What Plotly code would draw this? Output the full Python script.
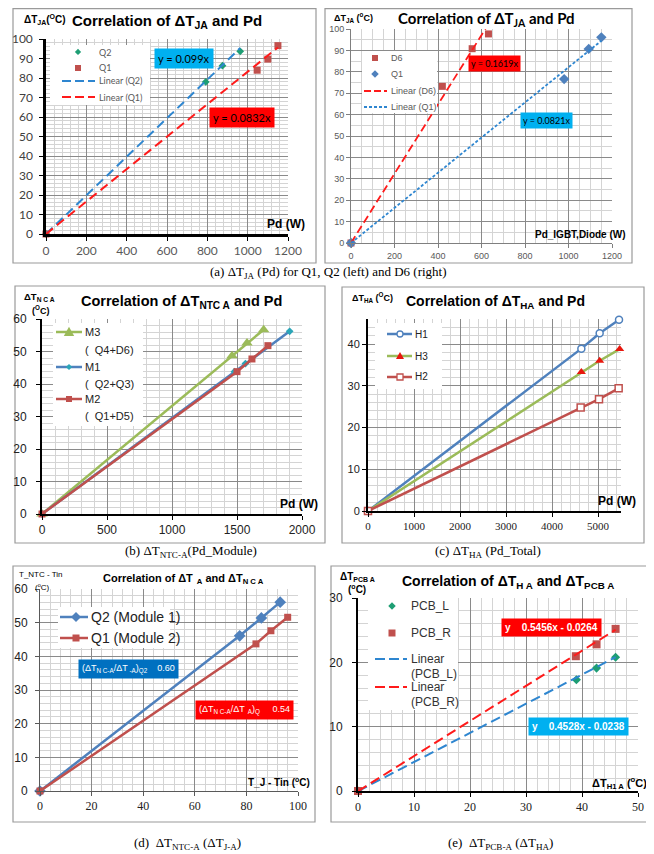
import numpy as np
import plotly.graph_objects as go

W, H = 654, 854
OFF = 8  # the page body margin shifts the figure by this many pixels
def X(p): return (p - OFF) / W
def Y(p): return 1 - (max(p - OFF, 0.6)) / H

# ---------------- DATA ----------------
# (a-left) dT_JA vs Pd
a1_q2_x = [0, 792, 875, 963]
a1_q2_y = [0, 78, 86.3, 93.7]
a1_q1_x = [0, 1047, 1100, 1150]
a1_q1_y = [0, 84, 89.7, 96.6]
a1_q2_slope = 0.099
a1_q1_slope = 0.0832

# (a-right) dT_JA vs Pd for D6 / Q1
a2_d6_x = [0, 420, 557, 632]
a2_d6_y = [0, 73.2, 90.8, 97.7]
a2_q1_x = [0, 980, 1093, 1151]
a2_q1_y = [0, 76.6, 90.7, 96.1]
a2_d6_slope = 0.1619
a2_q1_slope = 0.0821

# (b) dT_NTC-A vs Pd_Module
b_m3_x = [0, 1462, 1577, 1705]
b_m3_y = [0, 48.7, 52.6, 56.7]
b_m1_x = [0, 1480, 1565, 1905]
b_m1_y = [0, 43.8, 46.3, 56.2]
b_m2_x = [0, 1500, 1615, 1738]
b_m2_y = [0, 43.8, 47.7, 51.8]

# (c) dT_HA vs Pd_Total
c_h1_x = [0, 4638, 5036, 5457]
c_h1_y = [0, 38.9, 42.6, 45.8]
c_h3_x = [0, 4638, 5036, 5471]
c_h3_y = [0, 33.3, 36.0, 38.8]
c_h2_x = [0, 4623, 5022, 5449]
c_h2_y = [0, 24.8, 26.8, 29.4]

# (d) dT_NTC-A vs dT_J-A
d_q2_x = [0, 77.4, 85.8, 93.1]
d_q2_y = [0, 46.1, 51.4, 56.1]
d_q1_x = [0, 83.7, 89.5, 96.0]
d_q1_y = [0, 43.7, 47.6, 51.6]
d_ratio_q2 = "0.60"
d_ratio_q1 = "0.54"

# (e) dT_PCB-A vs dT_HA
e_l_x = [0, 39.0, 42.6, 46.0]
e_l_y = [0, 17.3, 19.1, 20.8]
e_r_x = [0, 38.9, 42.6, 46.0]
e_r_y = [0, 20.95, 22.8, 25.2]
e_l_fit = (0.4528, -0.0238)
e_r_fit = (0.5456, -0.0264)

# ---------------- STYLE ----------------
MAJ = '#8a8a8a'
MIN = '#d4d4d4'
BLUE = '#4F81BD'
RED = '#C0504D'
GREEN = '#9BBB59'
TEAL = '#1E9E74'
MTEAL = '#2BA6B8'
LBLUE = '#2E86D0'
BRED = '#FF1A1A'
TRI_RED = '#E8170E'

fig = go.Figure()
layout = {}

def axes(n, x0, x1, ytop, ybot, xr, yr, xd, xm, yd, ym, lc='black', lw=2,
         xfont=None, yfont=None, ystand=0):
    s = '' if n == 1 else str(n)
    common = dict(showgrid=True, gridcolor=MAJ, gridwidth=1, zeroline=False,
                  showline=True, linecolor=lc, linewidth=lw, ticks='outside',
                  ticklen=4, tickcolor=lc, tick0=0, fixedrange=True)
    layout['xaxis' + s] = dict(domain=[X(x0), X(x1)], range=xr, anchor='y' + s,
                               dtick=xd, tickfont=xfont,
                               minor=dict(dtick=xm, showgrid=True, gridcolor=MIN, gridwidth=1),
                               **common)
    layout['yaxis' + s] = dict(domain=[Y(ybot), Y(ytop)], range=yr, anchor='x' + s,
                               dtick=yd, tickfont=yfont, ticklabelstandoff=ystand,
                               minor=dict(dtick=ym, showgrid=True, gridcolor=MIN, gridwidth=1),
                               **common)

def ref(n):
    s = '' if n == 1 else str(n)
    return dict(xaxis='x' + s, yaxis='y' + s)

def pts(n, x, y, name, symbol, color, size=7, mode='markers', lcolor=None, lw=2.5, mline=None):
    kw = dict(x=x, y=y, name=name, mode=mode, cliponaxis=False, showlegend=False,
              marker=dict(symbol=symbol, color=color, size=size,
                          line=mline or dict(width=0)), **ref(n))
    if 'lines' in mode:
        kw['line'] = dict(color=lcolor, width=lw)
    fig.add_trace(go.Scatter(**kw))

def trend(n, xs, slope, icpt, name, color, dash, lw=2):
    xx = np.array([0.0, max(xs)])
    yy = slope * xx + icpt
    fig.add_trace(go.Scatter(x=xx, y=yy, name=name, mode='lines', showlegend=False,
                             line=dict(color=color, width=lw, dash=dash), **ref(n)))

anns = []
def text(t, x, y, size=11, color='black', family='Arial', xa='center', ya='middle', bg=None, pad=1, align='left'):
    d = dict(text=t, x=X(x), y=Y(y), xref='paper', yref='paper', showarrow=False,
             xanchor=xa, yanchor=ya, align=align,
             font=dict(size=size, color=color, family=family))
    if bg:
        d['bgcolor'] = bg
        d['borderpad'] = pad
    anns.append(d)

shapes = []
def frame(x0, y0, x1, y1):
    shapes.append(dict(type='rect', xref='paper', yref='paper', x0=X(x0), x1=X(x1),
                       y0=Y(y1), y1=Y(y0), line=dict(color='#9a9a9a', width=1.2),
                       fillcolor='rgba(0,0,0,0)', layer='below'))

# ---- hand-placed legend helpers (paper coordinates) ----
def lg_box(x0, y0, x1, y1):
    shapes.append(dict(type='rect', xref='paper', yref='paper', x0=X(x0), x1=X(x1),
                       y0=Y(y1), y1=Y(y0), line=dict(width=0), fillcolor='white',
                       layer='above'))

def lg_line(x0, x1, y, color, dash='solid', width=2):
    shapes.append(dict(type='line', xref='paper', yref='paper', x0=X(x0), x1=X(x1),
                       y0=Y(y), y1=Y(y), line=dict(color=color, width=width, dash=dash),
                       layer='above'))

def lg_mark(sym, cx, cy, size, fill, lcolor=None, lw=0):
    s = size / 2.0
    line = dict(color=lcolor or fill, width=lw) if lw else dict(width=0)
    if sym == 'circle':
        shapes.append(dict(type='circle', xref='paper', yref='paper',
                           x0=X(cx - s), x1=X(cx + s), y0=Y(cy + s), y1=Y(cy - s),
                           fillcolor=fill, line=line, layer='above'))
        return
    if sym == 'square':
        p = [(cx - s, cy - s), (cx + s, cy - s), (cx + s, cy + s), (cx - s, cy + s)]
    elif sym == 'diamond':
        k = s * 1.25
        p = [(cx, cy - k), (cx + k, cy), (cx, cy + k), (cx - k, cy)]
    else:  # triangle
        k = s * 1.15
        p = [(cx, cy - k), (cx + k, cy + k * 0.75), (cx - k, cy + k * 0.75)]
    path = 'M ' + ' L '.join('%.5f,%.5f' % (X(a), Y(b)) for a, b in p) + ' Z'
    shapes.append(dict(type='path', xref='paper', yref='paper', path=path,
                       fillcolor=fill, line=line, layer='above'))

# ---------------- (a-left) ----------------
frame(13, 5, 316, 263)
axes(1, 46, 288, 39, 234, [0, 1200], [0, 100], 200, 40, 10, 2, lc='black', lw=2.5,
     xfont=dict(family='Lato', size=12, color='#595959'),
     yfont=dict(family='Lato', size=12, color='#404040'), ystand=4)
pts(1, a1_q2_x, a1_q2_y, 'Q2', 'diamond', TEAL, size=6)
pts(1, a1_q1_x, a1_q1_y, 'Q1', 'square', RED, size=7)
trend(1, a1_q2_x, a1_q2_slope, 0, 'Linear (Q2)', LBLUE, '9px,5px')
trend(1, a1_q1_x, a1_q1_slope, 0, 'Linear (Q1)', BRED, '9px,5px')
lg_box(50, 45, 150, 105)
lg_mark('diamond', 78, 52, 5, TEAL)
lg_mark('square', 78, 68, 6, RED)
lg_line(62, 95, 81, LBLUE, '9px,4px', 2)
lg_line(62, 95, 97, BRED, '9px,4px', 2)
LGA = dict(size=9, color='#595959', family='Lato', xa='left')
text('Q2', 97, 52, **LGA)
text('Q1', 97, 68, **LGA)
text('Linear (Q2)', 97, 81, **LGA)
text('Linear (Q1)', 97, 97, **LGA)
text('<b>ΔT<sub>JA</sub>(<sup>O</sup>C)</b>', 22, 19, size=10, xa='left')
text('<b>Correlation of ΔT<sub>JA</sub> and Pd</b>', 167, 21, size=15)
text('<b>Pd (W)</b>', 307, 224, size=12, xa='right')
text('y = 0.099x', 184, 59, size=11, family='Lato', bg='#00B0F0', pad=3)
text('y = 0.0832x', 242, 117, size=11, family='Lato', bg='#FF0000', pad=3)

# ---------------- (a-right) ----------------
frame(325, 5, 632, 263)
axes(2, 351, 612, 29, 243, [0, 1200], [0, 100], 200, 50, 10, 5, lc='#7f7f7f', lw=1,
     xfont=dict(family='Arial', size=9, color='#595959'),
     yfont=dict(family='Arial', size=9, color='#595959'))
pts(2, a2_d6_x, a2_d6_y, 'D6', 'square', RED, size=7)
pts(2, a2_q1_x, a2_q1_y, 'Q1', 'diamond', BLUE, size=8)
trend(2, a2_d6_x, a2_d6_slope, 0, 'Linear (D6)', BRED, '8px,4px', lw=1.8)
trend(2, a2_q1_x, a2_q1_slope, 0, 'Linear (Q1)', LBLUE, '3px,2px', lw=1.8)
lg_box(362, 51, 437, 113)
lg_mark('square', 375, 58, 6, RED)
lg_mark('diamond', 375, 74, 6, BLUE)
lg_line(364, 387, 91, BRED, '7px,3px', 1.8)
lg_line(364, 387, 107, LBLUE, '3px,2px', 1.8)
LGB = dict(size=9, color='#595959', family='Arial', xa='left')
text('D6', 389, 58, **LGB)
text('Q1', 389, 74, **LGB)
text('Linear (D6)', 389, 91, **LGB)
text('Linear (Q1)', 389, 107, **LGB)
text('<b>ΔT<sub>JA</sub> (<sup>o</sup>C)</b>', 332, 17, size=9, xa='left')
text('<b>Correlation of ΔT<sub>JA</sub> and Pd</b>', 486, 19, size=15, family='Lato')
text('<b>Pd_IGBT,Diode (W)</b>', 628, 235, size=10, xa='right')
text('y = 0.1619x', 494, 64, size=9, family='Lato', bg='#FF0000', pad=2)
text('y = 0.0821x', 546, 120, size=9, family='Lato', bg='#00B0F0', pad=2)

# ---------------- (b) ----------------
frame(15, 286, 325, 543)
axes(3, 42, 302, 319, 514, [0, 2000], [0, 60], 500, 100, 10, 2, lc='black', lw=2,
     xfont=dict(family='Arial', size=12, color='#222'),
     yfont=dict(family='Arial', size=12, color='#222'), ystand=7)
pts(3, b_m3_x, b_m3_y, 'M3 ( Q4+D6)', 'triangle-up', GREEN, size=10, mode='lines+markers', lcolor=GREEN)
pts(3, b_m1_x, b_m1_y, 'M1 ( Q2+Q3)', 'diamond', MTEAL, size=6, mode='lines+markers', lcolor=BLUE)
pts(3, b_m2_x, b_m2_y, 'M2 ( Q1+D5)', 'square', RED, size=7, mode='lines+markers', lcolor=RED)
lg_box(53, 323, 143, 426)
lg_line(56, 82, 332, GREEN, 'solid', 2.5)
lg_mark('triangle', 69, 332, 9, GREEN)
lg_line(56, 82, 367, BLUE, 'solid', 2.5)
lg_mark('diamond', 69, 367, 5, MTEAL)
lg_line(56, 82, 399, RED, 'solid', 2.5)
lg_mark('square', 69, 399, 6, RED)
LGC = dict(size=11, color='#222', family='Arial', xa='left')
text('M3', 83, 332, **LGC)
text('(  Q4+D6)', 83, 350, **LGC)
text('M1', 83, 367, **LGC)
text('(  Q2+Q3)', 83, 384, **LGC)
text('M2', 83, 399, **LGC)
text('(  Q1+D5)', 83, 416, **LGC)
text('<b>ΔT<sub>N C A</sub></b>', 22, 297, size=9.5, xa='left')
text('<b>(<sup>O</sup>C)</b>', 30, 309.5, size=9, xa='left')
text('<b>Correlation of ΔT<sub>NTC A</sub> and Pd</b>', 181, 302, size=14.5)
text('<b>Pd (W)</b>', 320, 504, size=12, xa='right')

# ---------------- (c) ----------------
frame(342, 287, 644, 543)
axes(4, 368, 621, 319, 511, [0, 5500], [0, 46], 1000, 200, 10, 2, lc='black', lw=2,
     xfont=dict(family='Liberation Serif', size=11, color='#222'),
     yfont=dict(family='Arial', size=11, color='#222'))
pts(4, c_h1_x, c_h1_y, 'H1', 'circle', 'white', size=7, mode='lines+markers', lcolor=BLUE,
    mline=dict(width=1.5, color=BLUE))
pts(4, c_h3_x, c_h3_y, 'H3', 'triangle-up', TRI_RED, size=8, mode='lines+markers', lcolor=GREEN)
pts(4, c_h2_x, c_h2_y, 'H2', 'square', 'white', size=7, mode='lines+markers', lcolor=RED,
    mline=dict(width=1.5, color=RED))
lg_box(375, 323, 442, 389)
lg_line(387, 412, 334, BLUE, 'solid', 2.5)
lg_mark('circle', 400, 334, 6, 'white', BLUE, 1.3)
lg_line(387, 412, 356, GREEN, 'solid', 2.5)
lg_mark('triangle', 400, 356, 7, TRI_RED)
lg_line(387, 412, 377, RED, 'solid', 2.5)
lg_mark('square', 400, 377, 6, 'white', RED, 1.3)
LGD = dict(size=10, color='#222', family='Arial', xa='left')
text('H1', 413, 334, **LGD)
text('H3', 413, 356, **LGD)
text('H2', 413, 377, **LGD)
text('<b>ΔT<sub>HA</sub> (<sup>O</sup>C)</b>', 350, 297, size=9, xa='left')
text('<b>Correlation of ΔT<sub>HA</sub> and Pd</b>', 495, 302, size=14)
text('<b>Pd (W)</b>', 638, 501, size=12, xa='right')

# ---------------- (d) ----------------
frame(13, 566, 315, 822)
axes(5, 40, 298, 589, 791, [0, 100], [0, 60], 20, 4, 10, 2, lc='#595959', lw=1,
     xfont=dict(family='Liberation Serif', size=12, color='#222'),
     yfont=dict(family='Arial', size=12, color='#222'), ystand=5)
pts(5, d_q2_x, d_q2_y, 'Q2 (Module 1)', 'diamond', BLUE, size=9, mode='lines+markers', lcolor=BLUE)
pts(5, d_q1_x, d_q1_y, 'Q1 (Module 2)', 'square', RED, size=7, mode='lines+markers', lcolor=RED)
lg_box(58, 607, 170, 648)
lg_line(60, 88, 617, BLUE, 'solid', 2.5)
lg_mark('diamond', 76, 617, 8, BLUE)
lg_line(60, 88, 638, RED, 'solid', 2.5)
lg_mark('square', 76, 638, 7, RED)
LGE = dict(size=14, color='#222', family='Arial', xa='left')
text('Q2 (Module 1)', 89, 617, **LGE)
text('Q1 (Module 2)', 89, 638, **LGE)
text('T_NTC - Tin', 17, 574, size=8, xa='left')
text('(<sup>o</sup>C)', 33, 587, size=8, xa='left')
text('<b>Correlation of ΔT<sub>  A</sub> and ΔT<sub>N C A</sub></b>', 183, 579, size=11)
text('<b>T_J - Tin (<sup>o</sup>C)</b>', 312, 782, size=10, xa='right')
text('(ΔT<sub>N C-A</sub>/ΔT<sub> -A</sub>)<sub>Q2</sub>    ' + d_ratio_q2, 128, 669, size=9,
     color='white', bg='#0070C0', pad=3)
text('(ΔT<sub>N C-A</sub>/ΔT<sub>  A</sub>)<sub>Q</sub>     ' + d_ratio_q1, 244, 710, size=9,
     color='white', bg='#FF0000', pad=3)

# ---------------- (e) ----------------
frame(331, 566, 651, 822)
axes(6, 358, 638, 598, 791, [0, 50], [0, 30], 10, 2, 10, 2, lc='black', lw=2,
     xfont=dict(family='Liberation Serif', size=12, color='#222'),
     yfont=dict(family='Arial', size=12, color='#222'), ystand=7)
pts(6, e_l_x, e_l_y, 'PCB_L', 'diamond', TEAL, size=7)
pts(6, e_r_x, e_r_y, 'PCB_R', 'square', RED, size=8)
trend(6, e_l_x, e_l_fit[0], e_l_fit[1], 'Linear (PCB_L)', LBLUE, '10px,5px')
trend(6, e_r_x, e_r_fit[0], e_r_fit[1], 'Linear (PCB_R)', BRED, '10px,5px')
lg_box(368, 598, 458, 710)
lg_mark('diamond', 392, 606, 6, TEAL)
lg_mark('square', 392, 633, 7, RED)
lg_line(375, 407, 659, LBLUE, '10px,4px', 2)
lg_line(375, 407, 687, BRED, '10px,4px', 2)
LGF = dict(size=12, color='#333', family='Arial', xa='left')
text('PCB_L', 409, 606, **LGF)
text('PCB_R', 409, 633, **LGF)
text('Linear', 409, 659, **LGF)
text('(PCB_L)', 409, 674, **LGF)
text('Linear', 409, 687, **LGF)
text('(PCB_R)', 409, 702, **LGF)
text('<b>ΔT<sub>PCB A</sub></b>', 338, 577, size=10, xa='left')
text('<b>(<sup>o</sup>C)</b>', 346, 589, size=10, xa='left')
text('<b>Correlation of ΔT<sub>H A</sub> and ΔT<sub>PCB A</sub></b>', 508, 582, size=14)
text('<b>ΔT<sub>H1 A</sub> (<sup>o</sup>C)</b>', 649, 783, size=11, xa='right')
text('<b>y    %.4fx - %.4f</b>' % (e_r_fit[0], -e_r_fit[1]), 551, 627, size=10,
     color='white', bg='#FF0000', pad=3)
text('<b>y    %.4fx - %.4f</b>' % (e_l_fit[0], -e_l_fit[1]), 578, 726, size=10,
     color='white', bg='#00B0F0', pad=3)

# ---------------- captions ----------------
SER = 'Liberation Serif'
text('(a) ΔT<sub>JA</sub> (Pd) for Q1, Q2 (left) and D6 (right)', 328, 272, size=13, family=SER)
text('(b) ΔT<sub>NTC-A</sub>(Pd_Module)', 191, 551, size=13, family=SER)
text('(c) ΔT<sub>HA</sub> (Pd_Total)', 488, 551, size=13, family=SER)
text('(d)  ΔT<sub>NTC-A</sub> (ΔT<sub>J-A</sub>)', 187, 843, size=13, family=SER)
text('(e)  ΔT<sub>PCB-A</sub> (ΔT<sub>HA</sub>)', 500, 843, size=13, family=SER)

layout.update(dict(width=W, height=H,
                   margin=dict(l=0, r=0, t=0, b=0, pad=0, autoexpand=False),
                   paper_bgcolor='white', plot_bgcolor='white',
                   showlegend=False, annotations=anns, shapes=shapes,
                   font=dict(family='Arial')))
fig.update_layout(**layout)
fig.write_html('out.html')
